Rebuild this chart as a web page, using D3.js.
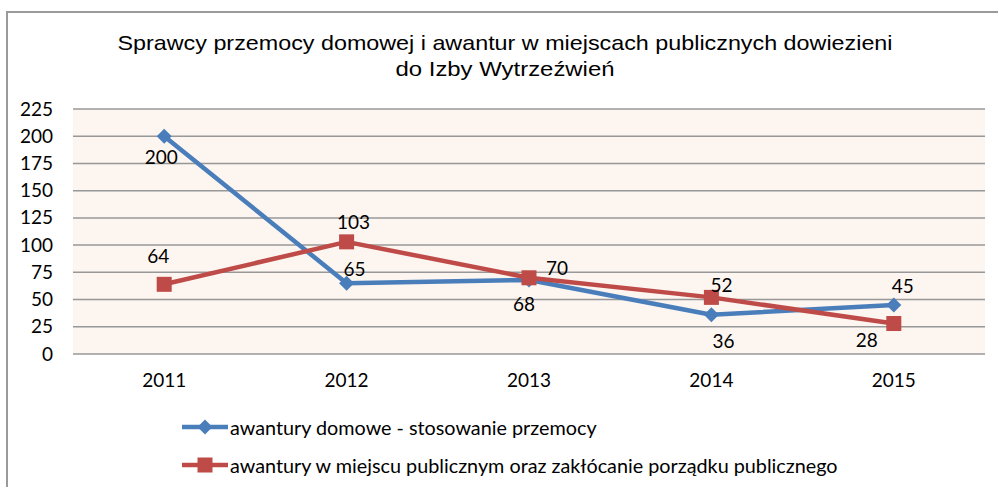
<!DOCTYPE html>
<html><head><meta charset="utf-8">
<script src="https://cdn.jsdelivr.net/npm/d3@7"></script>
<style>body{margin:0;background:#fff}svg{display:block}</style>
</head><body>
<svg id="c" width="998" height="487"></svg>
<script>
const categories = ["2011","2012","2013","2014","2015"];
const domowe = [200, 65, 68, 36, 45];
const publiczne = [64, 103, 70, 52, 28];
const yTicks = [0,25,50,75,100,125,150,175,200,225];
const seriesNames = ["awantury domowe - stosowanie przemocy","awantury w miejscu publicznym oraz zakłócanie porządku publicznego"];
const titleLines = ["Sprawcy przemocy domowej i awantur w miejscach publicznych dowiezieni","do Izby Wytrzeźwień"];
// label offsets (style)
const offDomowe = [[-3,20],[8,-15],[-5,24],[12,26],[9,-20]];
const offPubl = [[-6,-29],[7,-20],[28,-10],[10,-13],[-27,16]];

const svg = d3.select("#c");
const L=73, R=985, T=109, B=354;
const font = "Lato, 'Open Sans', sans-serif";

svg.append("rect").attr("x",7).attr("y",12).attr("width",1100).attr("height",600)
  .attr("fill","none").attr("stroke","#9a9a9a").attr("stroke-width",2);

const x = d3.scaleBand().domain(categories).range([L,R]);
const y = d3.scaleLinear().domain([0,225]).range([B,T]);

svg.append("rect").attr("x",L).attr("y",T).attr("width",R-L).attr("height",B-T).attr("fill","#FDF5F0");

svg.append("g").selectAll("line").data(yTicks).join("line")
  .attr("x1",L).attr("x2",R).attr("y1",d=>y(d)).attr("y2",d=>y(d))
  .attr("stroke","#989898").attr("stroke-width",1.5);

const yAxis = svg.append("g").attr("transform",`translate(${L},0)`)
  .call(d3.axisLeft(y).tickValues(yTicks).tickSize(0).tickPadding(20));
yAxis.select(".domain").remove();
yAxis.selectAll("text").attr("font-family",font).attr("font-size",19).attr("fill","#000");

const xAxis = svg.append("g").attr("transform",`translate(0,${B})`)
  .call(d3.axisBottom(x).tickSize(0).tickPadding(20));
xAxis.select(".domain").remove();
xAxis.selectAll("text").attr("font-family",font).attr("font-size",19).attr("fill","#000");

const cx = d=>x(d)+x.bandwidth()/2;
const line = d3.line().x((d,i)=>cx(categories[i])).y(d=>y(d));

const blue="#4A7EBB", red="#BE4B48";
svg.append("path").datum(domowe).attr("d",line).attr("fill","none").attr("stroke",blue).attr("stroke-width",4.5).attr("stroke-linejoin","round");
svg.append("path").datum(publiczne).attr("d",line).attr("fill","none").attr("stroke",red).attr("stroke-width",4.5).attr("stroke-linejoin","round");

const diamond = d3.symbol().type(d3.symbolDiamond2).size(145);
svg.append("g").selectAll("path").data(domowe).join("path")
  .attr("d",diamond).attr("transform",(d,i)=>`translate(${cx(categories[i])},${y(d)})`).attr("fill",blue);
svg.append("g").selectAll("rect").data(publiczne).join("rect")
  .attr("x",(d,i)=>cx(categories[i])-7.5).attr("y",d=>y(d)-7.5).attr("width",15).attr("height",15).attr("fill",red);

function labels(data, off){
  svg.append("g").selectAll("text").data(data).join("text")
    .attr("x",(d,i)=>cx(categories[i])+off[i][0]).attr("y",(d,i)=>y(d)+off[i][1])
    .attr("text-anchor","middle").attr("dominant-baseline","central")
    .attr("font-family",font).attr("font-size",19).attr("fill","#000").text(d=>d);
}
labels(domowe, offDomowe);
labels(publiczne, offPubl);

svg.append("g").selectAll("text").data(titleLines).join("text")
  .attr("x",505).attr("y",(d,i)=>50+i*26).attr("text-anchor","middle")
  .attr("font-family","'Liberation Sans', Arial, sans-serif").attr("font-size",21).attr("fill","#000")
  .attr("textLength",(d,i)=>i===0?775:219).attr("lengthAdjust","spacingAndGlyphs").text(d=>d);

const lg = svg.append("g");
[0,1].forEach(i=>{
  const ly = 427 + i*38;
  const col = i===0?blue:red;
  lg.append("line").attr("x1",182).attr("x2",228).attr("y1",ly).attr("y2",ly).attr("stroke",col).attr("stroke-width",4.5);
  if(i===0) lg.append("path").attr("d",diamond).attr("transform",`translate(205,${ly})`).attr("fill",col);
  else lg.append("rect").attr("x",197.5).attr("y",ly-7.5).attr("width",15).attr("height",15).attr("fill",col);
  lg.append("text").attr("x",230).attr("y",ly).attr("dominant-baseline","central")
    .attr("font-family",font).attr("font-size",19.8).attr("fill","#000").text(seriesNames[i]);
});
</script>
</body></html>
